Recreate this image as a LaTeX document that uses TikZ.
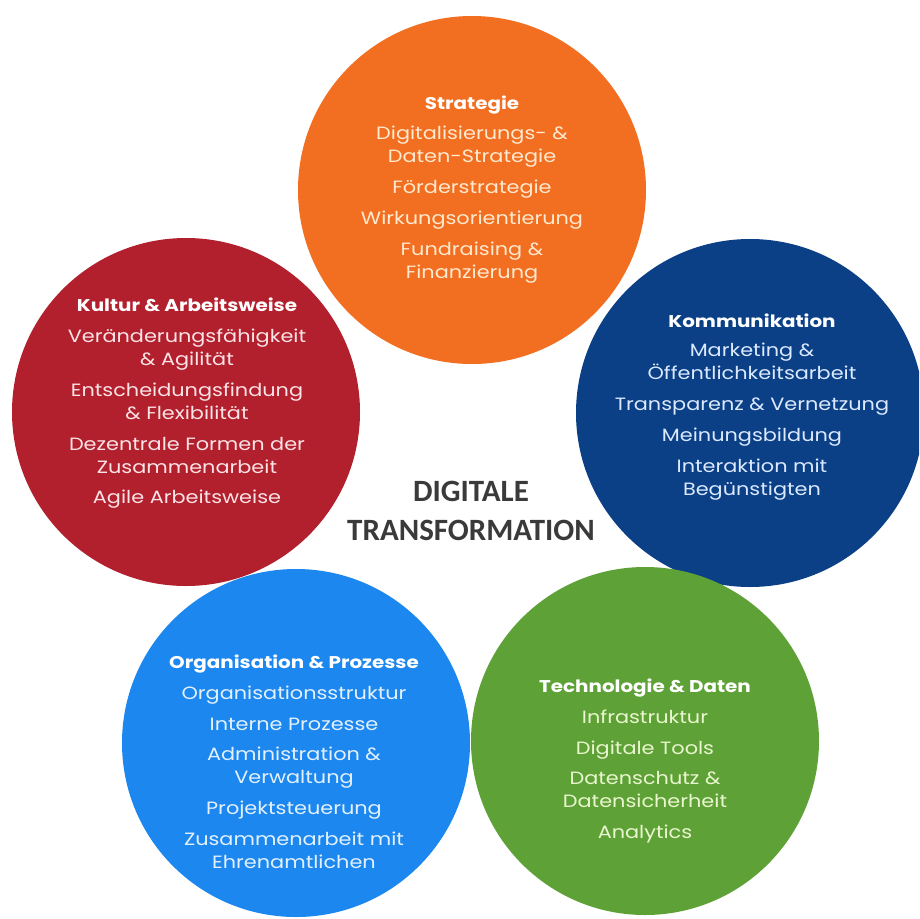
\documentclass[tikz,border=0pt]{standalone}
\usepackage{fontspec}
\setmainfont{Poppins}[FakeStretch=1.17]
\newfontfamily\titlefont{Carlito}
\definecolor{cOrange}{HTML}{F26E21}
\definecolor{cRed}{HTML}{B2202E}
\definecolor{cNavy}{HTML}{0B3F86}
\definecolor{cSky}{HTML}{1C87EE}
\definecolor{cGreen}{HTML}{5EA237}
\definecolor{tOrange}{HTML}{FFE9CF}
\definecolor{tRed}{HTML}{FBE3E6}
\definecolor{tNavy}{HTML}{DCEAFF}
\definecolor{tSky}{HTML}{E3F1FF}
\definecolor{tGreen}{HTML}{EAF6CF}
\definecolor{cTitle}{HTML}{3A3A3A}
\newcommand{\hd}[1]{{\bfseries\color{white}\fontsize{17}{23}\selectfont #1}}
\begin{document}
\begin{tikzpicture}[x=1pt,y=-1pt,
  blob/.style={circle, minimum size=348pt, inner sep=0pt, draw=none},
  txt/.style={align=center, inner sep=0pt, font=\fontsize{17.8}{23}\selectfont}]
\clip (0,0) rectangle (919,919);
\fill[white] (0,0) rectangle (919,919);
\node[blob, fill=cOrange] (strat) at (472,190) {};
\node[blob, fill=cRed] (kult) at (186,412) {};
\node[blob, fill=cNavy] (komm) at (750,413) {};
\node[blob, fill=cSky] (orga) at (296,743) {};
\node[blob, fill=cGreen] (tech) at (645,741) {};
\node[txt, text=tOrange] (stratT) at (472,190) {\hd{Strategie}\\[7pt]
 Digitalisierungs- \&\\ Daten-Strategie\\[8pt]
 Förderstrategie\\[8pt]
 Wirkungsorientierung\\[8pt]
 Fundraising \&\\ Finanzierung};
\node[txt, text=tRed] (kultT) at (187,403) {\hd{Kultur \& Arbeitsweise}\\[8pt]
 Veränderungsfähigkeit\\ \& Agilität\\[8pt]
 Entscheidungsfindung\\ \& Flexibilität\\[8pt]
 Dezentrale Formen der\\ Zusammenarbeit\\[7pt]
 Agile Arbeitsweise};
\node[txt, text=tNavy] (kommT) at (752,407) {\hd{Kommunikation}\\[6pt]
 Marketing \&\\ Öffentlichkeitsarbeit\\[8pt]
 Transparenz \& Vernetzung\\[8pt]
 Meinungsbildung\\[8pt]
 Interaktion mit\\ Begünstigten};
\node[txt, text=tSky] (orgaT) at (294,762) {\hd{Organisation \& Prozesse}\\[8pt]
 Organisationsstruktur\\[8pt]
 Interne Prozesse\\[7pt]
 Administration \&\\ Verwaltung\\[8pt]
 Projektsteuerung\\[8pt]
 Zusammenarbeit mit\\ Ehrenamtlichen};
\node[txt, text=tGreen] (techT) at (645,761) {\hd{Technologie \& Daten}\\[8pt]
 Infrastruktur\\[8pt]
 Digitale Tools\\[7pt]
 Datenschutz \&\\ Datensicherheit\\[8pt]
 Analytics};
\node[align=center, inner sep=0pt, text=cTitle, font=\titlefont\bfseries\fontsize{31}{39}\selectfont] (title) at (471,511) {DIGITALE\\TRANSFORMATION};
\end{tikzpicture}
\end{document}
